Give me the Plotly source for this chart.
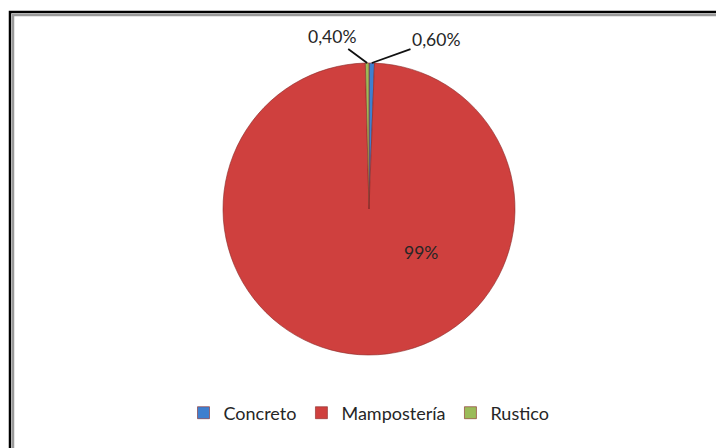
import math
import plotly.graph_objects as go

categories = ["Concreto", "Mampostería", "Rustico"]
values = [0.6, 99.0, 0.4]
label_texts = ["0,60%", "99%", "0,40%"]
colors = ["#3F7FCF", "#CF403E", "#9BBB59"]

W, H = 716, 448
cx, cy, R = 369, 209, 146  # pie centre / radius in pixels

def px(x):
    return x / W

def py(y):
    return 1 - y / H

FONT = "Lato, Open Sans, sans-serif"

fig = go.Figure()
fig.add_trace(go.Pie(
    labels=categories,
    values=values,
    sort=False,
    direction="clockwise",
    rotation=0,
    textinfo="none",
    hoverinfo="label+percent",
    marker=dict(colors=colors, line=dict(color="#8A2A28", width=0.6)),
    domain=dict(x=[px(cx - R), px(cx + R)], y=[py(cy + R), py(cy - R)]),
    showlegend=True,
))

# label anchor points computed from slice mid-angles
total = sum(values)
cum = 0.0
mids = []
for v in values:
    mids.append((cum + v / 2) / total * 2 * math.pi)
    cum += v

text_offsets = {0: (436, 40), 2: (332, 37)}
annotations = []
for i, ang in enumerate(mids):
    if i in text_offsets:
        ex = cx + R * math.sin(ang)
        ey = cy - R * math.cos(ang)
        tx, ty = text_offsets[i]
        annotations.append(dict(
            x=px(ex), y=py(ey), xref="paper", yref="paper",
            ax=tx - ex, ay=ty - ey,
            text=label_texts[i], showarrow=True, arrowhead=0,
            arrowwidth=1.8, arrowcolor="#111111",
            font=dict(family=FONT, size=17.5, color="#262626"),
        ))
    else:
        annotations.append(dict(
            x=px(421), y=py(252), xref="paper", yref="paper",
            text=label_texts[i], showarrow=False,
            font=dict(family=FONT, size=17.5, color="#262626"),
        ))

shapes = [
    dict(type="rect", xref="paper", yref="paper",
         x0=px(10), y0=py(12), x1=px(760), y1=py(500),
         line=dict(color="#000000", width=2.5)),
    dict(type="rect", xref="paper", yref="paper",
         x0=px(13), y0=py(15), x1=px(758), y1=py(498),
         line=dict(color="#9A9A9A", width=2.5)),
]

fig.update_layout(
    width=W, height=H,
    margin=dict(l=0, r=0, t=0, b=0),
    paper_bgcolor="white",
    plot_bgcolor="white",
    annotations=annotations,
    shapes=shapes,
    legend=dict(
        orientation="h", x=px(369), xanchor="center", y=py(413), yanchor="middle",
        font=dict(family=FONT, size=18, color="#262626"),
        itemwidth=30, tracegroupgap=0,
    ),
)

fig.write_html(
    "out.html",
    config={"displayModeBar": False},
    post_script="document.body.style.margin='0';document.body.style.overflow='hidden';",
)
